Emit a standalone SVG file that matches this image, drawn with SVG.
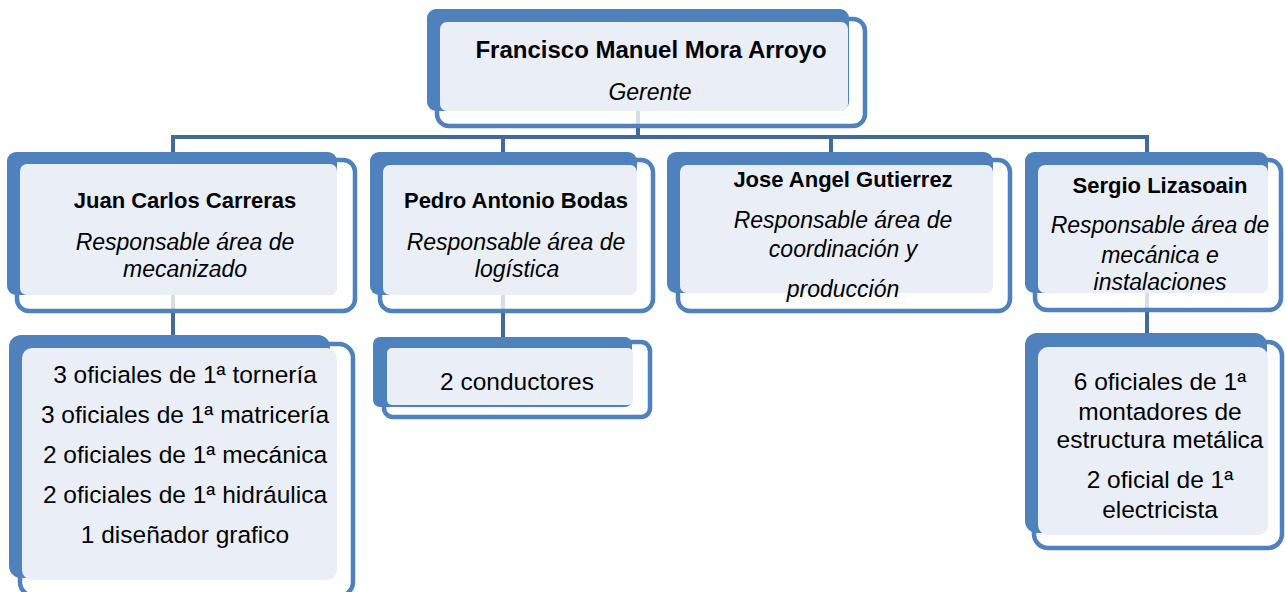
<svg xmlns="http://www.w3.org/2000/svg" width="1285" height="592" viewBox="0 0 1285 592">
<style>
.back{fill:#4F81BD}
.light{fill:#EAEFF7}
.outline{fill:#FFFFFF;fill-opacity:0.78;stroke:#4F81BD;stroke-width:4.5}
.conn{stroke:#41699B;stroke-width:4;fill:none}
text{font-family:"Liberation Sans",Arial,sans-serif;fill:#000;text-anchor:middle}
.b{font-weight:bold;font-size:22px}
.t{font-weight:bold;font-size:24px}
.i{font-style:italic;font-size:23px}
.r{font-size:24.5px}
</style>
<rect width="1285" height="592" fill="#FFFFFF"/>
<g id="connectors">
<line class="conn" x1="638" y1="111" x2="638" y2="137"/>
<line class="conn" x1="171" y1="137" x2="1149" y2="137"/>
<line class="conn" x1="173" y1="137" x2="173" y2="156"/>
<line class="conn" x1="503" y1="137" x2="503" y2="156"/>
<line class="conn" x1="831" y1="137" x2="831" y2="156"/>
<line class="conn" x1="1147" y1="137" x2="1147" y2="156"/>
<line class="conn" x1="173" y1="295" x2="173" y2="338"/>
<line class="conn" x1="503" y1="295" x2="503" y2="340"/>
<line class="conn" x1="1147" y1="293" x2="1147" y2="336"/>
</g>
<g id="n-gerente">
<rect class="outline" x="437" y="19" width="428" height="107" rx="12"/>
<rect class="back" x="427" y="9" width="422" height="102" rx="9"/>
<rect class="light" x="440" y="22" width="408" height="89" rx="7"/>
<text class="t" x="651" y="58">Francisco Manuel Mora Arroyo</text>
<text class="i" x="650" y="100">Gerente</text>
</g>
<g id="n-juan">
<rect class="outline" x="17" y="160" width="338" height="151" rx="12"/>
<rect class="back" x="7" y="152" width="330" height="143" rx="9"/>
<rect class="light" x="20" y="164" width="317" height="131" rx="7"/>
<text class="b" x="185" y="208">Juan Carlos Carreras</text>
<text class="i" x="185" y="250">Responsable área de</text>
<text class="i" x="185" y="277">mecanizado</text>
</g>
<g id="n-pedro">
<rect class="outline" x="380" y="160" width="273" height="151" rx="12"/>
<rect class="back" x="370" y="152" width="267" height="143" rx="9"/>
<rect class="light" x="383" y="165" width="254" height="130" rx="7"/>
<text class="b" x="516" y="208">Pedro Antonio Bodas</text>
<text class="i" x="516" y="250">Responsable área de</text>
<text class="i" x="517" y="277">logística</text>
</g>
<g id="n-jose">
<rect class="outline" x="678" y="160" width="332" height="151" rx="12"/>
<rect class="back" x="667" y="152" width="326" height="141" rx="9"/>
<rect class="light" x="680" y="165" width="313" height="128" rx="7"/>
<text class="b" x="843" y="187">Jose Angel Gutierrez</text>
<text class="i" x="843" y="228">Responsable área de</text>
<text class="i" x="843" y="257">coordinación y</text>
<text class="i" x="843" y="297">producción</text>
</g>
<g id="n-sergio">
<rect class="outline" x="1035" y="160" width="246" height="150" rx="12"/>
<rect class="back" x="1025" y="152" width="243" height="141" rx="9"/>
<rect class="light" x="1038" y="165" width="230" height="128" rx="7"/>
<text class="b" x="1160" y="193">Sergio Lizasoain</text>
<text class="i" x="1160" y="233">Responsable área de</text>
<text class="i" x="1160" y="263">mecánica e</text>
<text class="i" x="1160" y="290">instalaciones</text>
</g>
<g id="n-mecanizado-staff">
<rect class="outline" x="20" y="344" width="333" height="252" rx="14"/>
<rect class="back" x="9" y="335" width="321" height="243" rx="12"/>
<rect class="light" x="22" y="348" width="315" height="232" rx="10"/>
<text class="r" x="185" y="383">3 oficiales de 1ª tornería</text>
<text class="r" x="185" y="423">3 oficiales de 1ª matricería</text>
<text class="r" x="185" y="463">2 oficiales de 1ª mecánica</text>
<text class="r" x="185" y="503">2 oficiales de 1ª hidráulica</text>
<text class="r" x="185" y="543">1 diseñador grafico</text>
</g>
<g id="n-logistica-staff">
<rect class="outline" x="384" y="342" width="266" height="75" rx="9"/>
<rect class="back" x="373" y="337" width="259" height="70" rx="7"/>
<rect class="light" x="387" y="348" width="246" height="57" rx="5"/>
<text class="r" x="517" y="390">2 conductores</text>
</g>
<g id="n-mecanica-staff">
<rect class="outline" x="1034" y="342" width="248" height="206" rx="14"/>
<rect class="back" x="1025" y="333" width="242" height="200" rx="12"/>
<rect class="light" x="1038" y="347" width="230" height="188" rx="10"/>
<text class="r" x="1160" y="390">6 oficiales de 1ª</text>
<text class="r" x="1160" y="420">montadores de</text>
<text class="r" x="1160" y="448">estructura metálica</text>
<text class="r" x="1160" y="488">2 oficial de 1ª</text>
<text class="r" x="1160" y="518">electricista</text>
</g>
</svg>
